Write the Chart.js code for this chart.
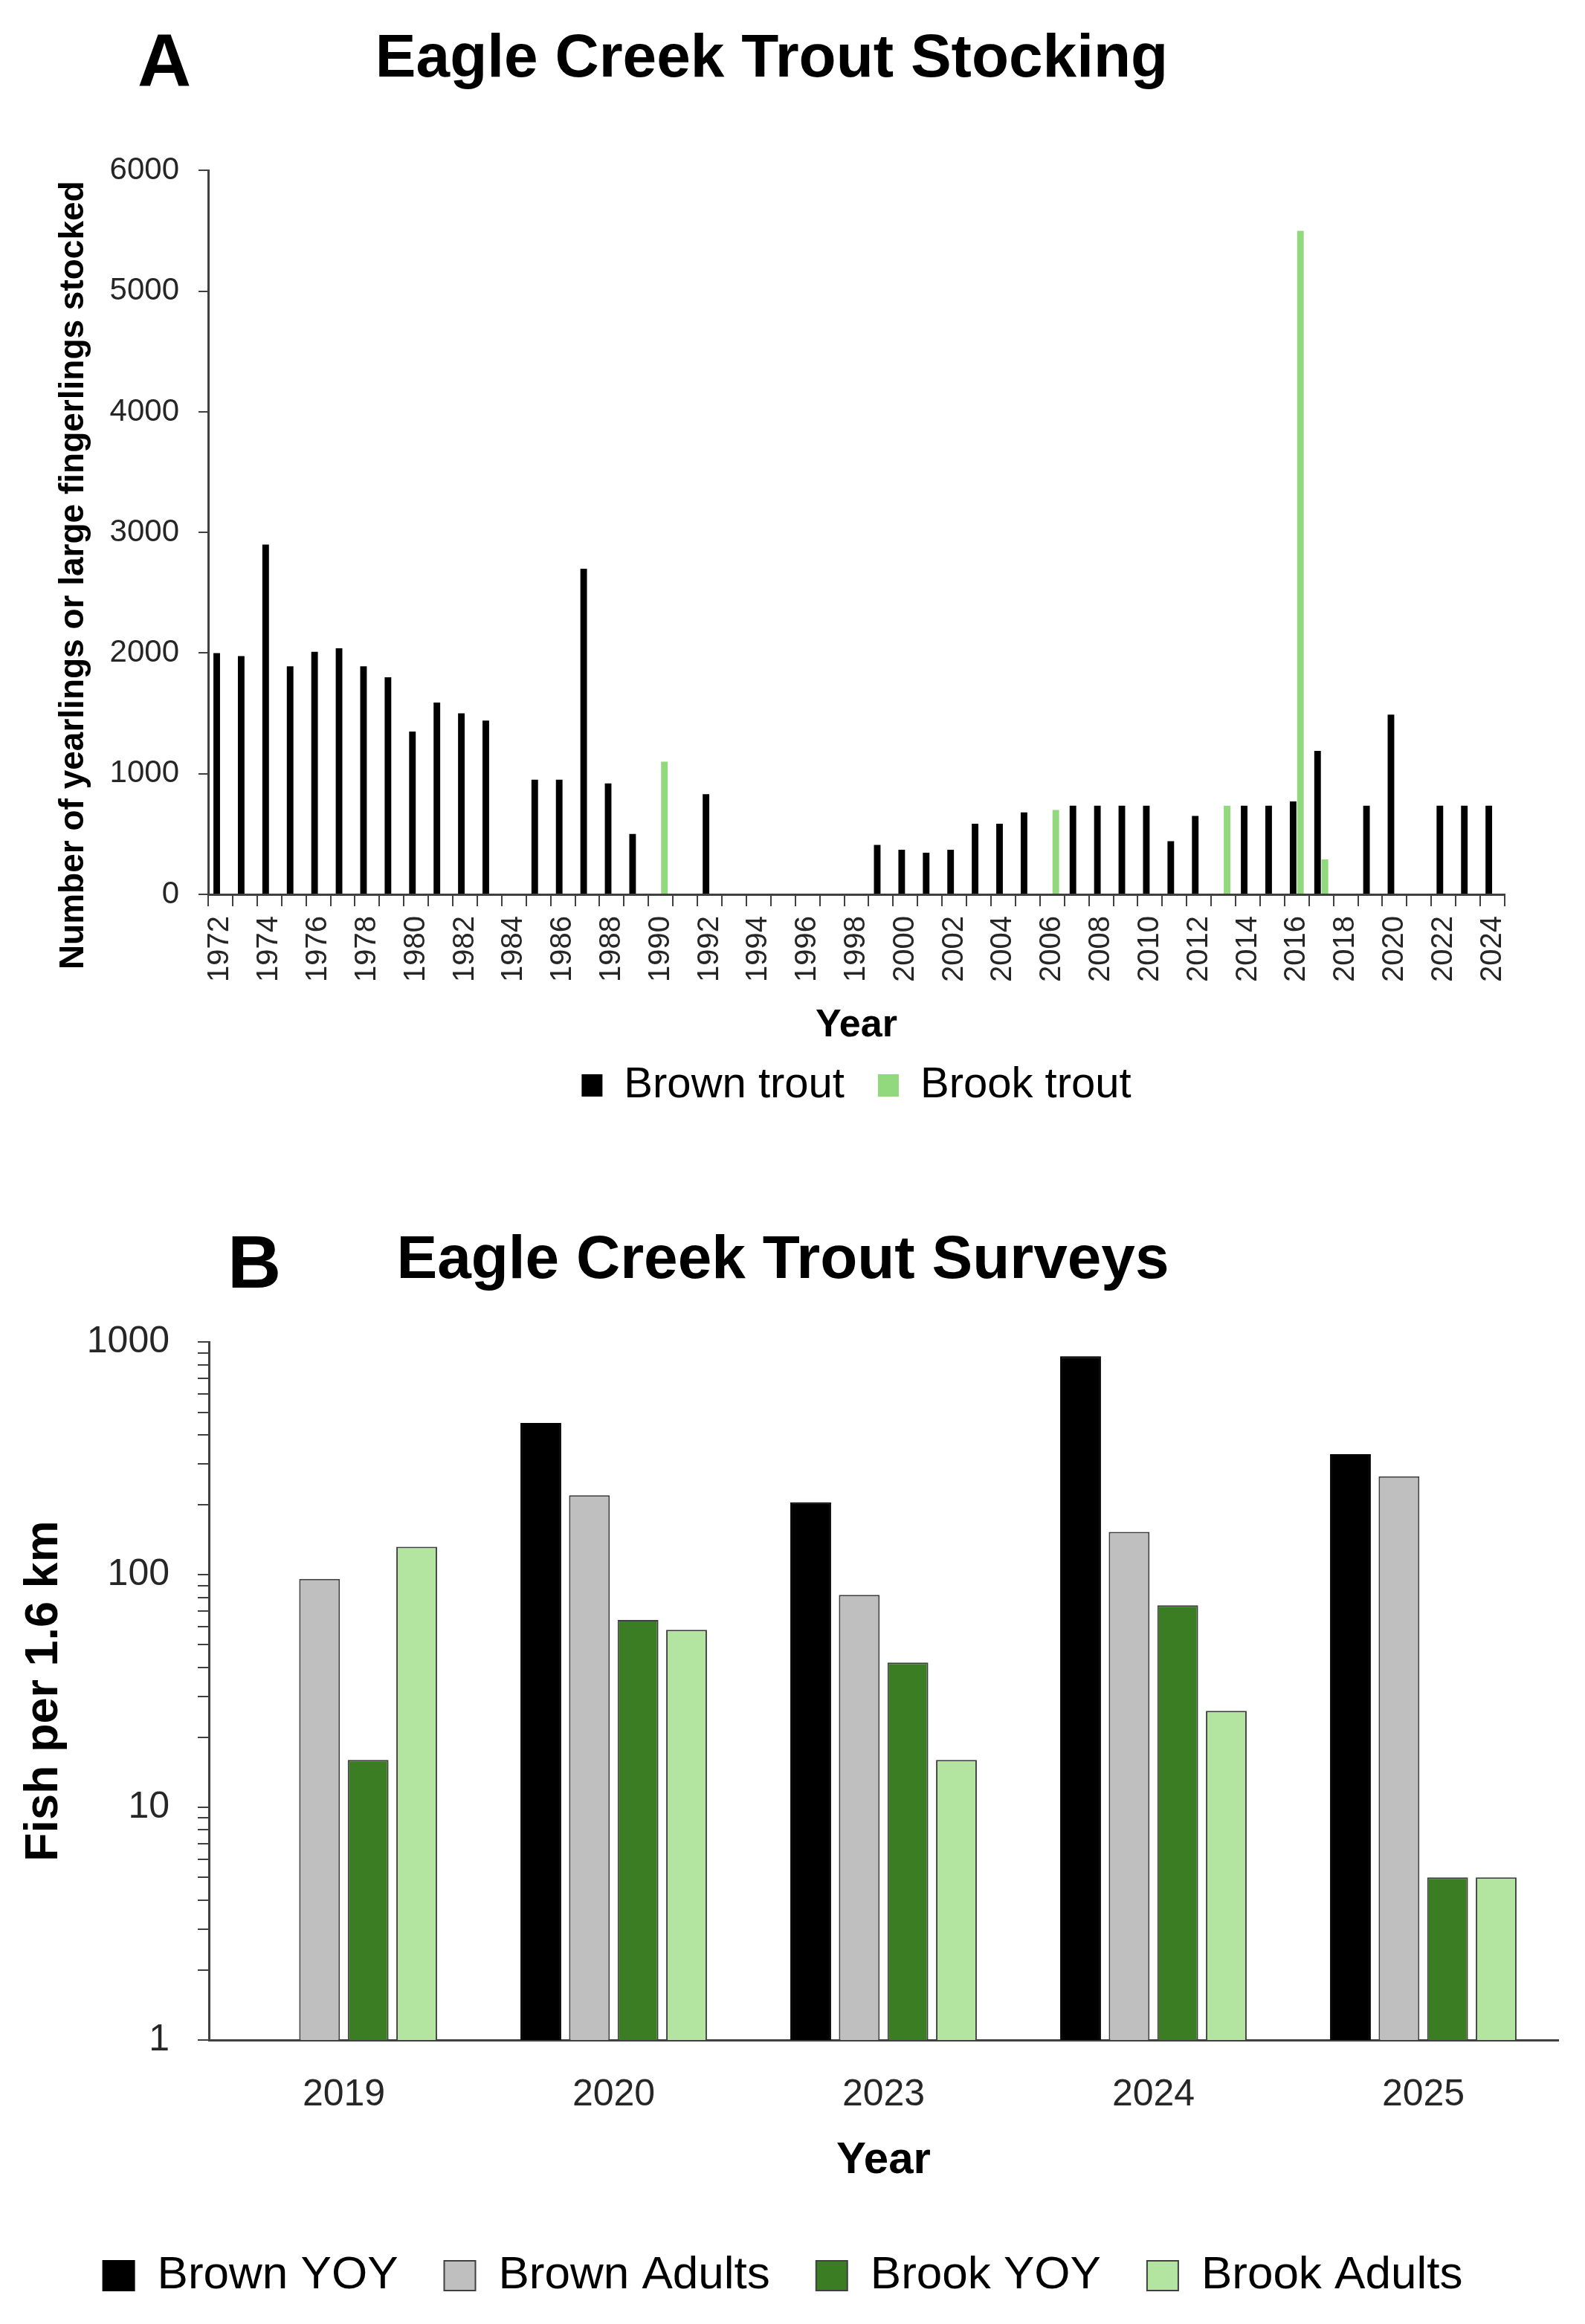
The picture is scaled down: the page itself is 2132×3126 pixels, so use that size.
<!DOCTYPE html>
<html>
<head>
<meta charset="utf-8">
<script src="https://cdn.jsdelivr.net/npm/chart.js@4.4.1/dist/chart.umd.min.js"></script>
<style>
  body { margin: 0; background: #fff; width: 2132px; height: 3126px; position: relative; overflow: hidden; }
  canvas { position: absolute; left: 0; }
  #stocking { top: 0; }
  #surveys { top: 1520px; }
  .panel { position: absolute; font: bold 100px 'Liberation Sans', Arial, sans-serif; line-height: 1; color: #000; }
</style>
</head>
<body>
<div class="panel" style="left:185px; top:31px;">A</div>
<div class="panel" style="left:306px; top:1647px;">B</div>
<canvas id="stocking" width="2076" height="1520"></canvas>
<canvas id="surveys" width="2106" height="1606"></canvas>
<script>
// panel A - fish stocked per year
const stockYears = ['1972','1973','1974','1975','1976','1977','1978','1979','1980','1981',
  '1982','1983','1984','1985','1986','1987','1988','1989','1990','1991',
  '1992','1993','1994','1995','1996','1997','1998','1999','2000','2001',
  '2002','2003','2004','2005','2006','2007','2008','2009','2010','2011',
  '2012','2013','2014','2015','2016','2017','2018','2019','2020','2021',
  '2022','2023','2024'];
const brownStocked = [2000,1975,2900,1890,2010,2040,1890,1800,1350,1590,
  1500,1440,0,950,950,2700,920,500,0,0,
  830,0,0,0,0,0,0,410,370,345,
  370,585,585,680,0,735,735,735,735,440,
  650,0,735,735,770,1190,0,735,1490,0,
  735,735,735];
const brookStocked = [0,0,0,0,0,0,0,0,0,0,
  0,0,0,0,0,0,0,0,1100,0,
  0,0,0,0,0,0,0,0,0,0,
  0,0,0,0,700,0,0,0,0,0,
  0,735,0,0,5500,290,0,0,0,0,
  0,0,0];
const stockTicks = [0,1000,2000,3000,4000,5000,6000];

// panel B - survey densities
const surveyYears = ['2019','2020','2023','2024','2025'];
const brownYoy = [null,450,205,870,330];
const brownAdults = [96,220,82,153,265];
const brookYoy = [16,64,42,74,5];
const brookAdults = [132,58,16,26,5];
const logTicks = [1,2,3,4,5,6,7,8,9,10,20,30,40,50,60,70,80,90,100,200,300,400,500,600,700,800,900,1000];
const logLabels = [1,10,100,1000];

const FONT = "'Liberation Sans', Arial, sans-serif";
Chart.defaults.font.family = FONT;
Chart.defaults.color = '#262626';
const AXIS = '#404040';

new Chart(document.getElementById('stocking'), {
  type: 'bar',
  data: {
    labels: stockYears,
    datasets: [
      { label: 'Brown trout', data: brownStocked, backgroundColor: '#000000', borderWidth: 0 },
      { label: 'Brook trout', data: brookStocked, backgroundColor: '#92d87c', borderWidth: 0 }
    ]
  },
  options: {
    responsive: false,
    devicePixelRatio: 1,
    animation: false,
    categoryPercentage: 0.6,
    barPercentage: 0.9,
    layout: { padding: { left: 52, right: 52, top: 0, bottom: 21 } },
    plugins: {
      title: {
        display: true,
        text: 'Eagle Creek Trout Stocking',
        color: '#000',
        font: { size: 82, weight: 'bold' },
        padding: { top: 31, bottom: 100 }
      },
      legend: {
        position: 'bottom',
        fullSize: false,
        labels: { font: { size: 58 }, color: '#000', boxWidth: 28, boxHeight: 30, padding: 45 }
      },
      tooltip: { enabled: false }
    },
    scales: {
      x: {
        afterFit: s => { s.height = 183; },
        grid: { drawOnChartArea: false, tickLength: 16, color: AXIS, lineWidth: 2 },
        border: { color: AXIS, width: 3 },
        ticks: {
          autoSkip: false, minRotation: 90, maxRotation: 90, padding: 13,
          font: { size: 40 },
          callback: function (v, i) { return i % 2 === 0 ? this.getLabelForValue(v) : ''; }
        },
        title: { display: true, text: 'Year', color: '#000', font: { size: 52, weight: 'bold' }, padding: { top: 0, bottom: -25 } }
      },
      y: {
        min: 0, max: 6000,
        afterFit: s => { s.width = 228; },
        afterBuildTicks: s => { s.ticks = stockTicks.map(v => ({ value: v })); },
        grid: { drawOnChartArea: false, tickLength: 13, color: AXIS, lineWidth: 2 },
        border: { color: AXIS, width: 3 },
        ticks: { padding: 26, font: { size: 42 }, callback: v => String(v) },
        title: {
          display: true, text: 'Number of yearlings or large fingerlings stocked         ',
          color: '#000', font: { size: 46, weight: 'bold' }, padding: { top: 20, bottom: 0 }
        }
      }
    }
  }
});

new Chart(document.getElementById('surveys'), {
  type: 'bar',
  data: {
    labels: surveyYears,
    datasets: [
      { label: 'Brown YOY', data: brownYoy, backgroundColor: '#000000', borderColor: '#000000', borderWidth: 2 },
      { label: 'Brown Adults', data: brownAdults, backgroundColor: '#bfbfbf', borderColor: AXIS, borderWidth: 2 },
      { label: 'Brook YOY', data: brookYoy, backgroundColor: '#3b7d23', borderColor: AXIS, borderWidth: 2 },
      { label: 'Brook Adults', data: brookAdults, backgroundColor: '#b3e5a1', borderColor: AXIS, borderWidth: 2 }
    ]
  },
  options: {
    responsive: false,
    devicePixelRatio: 1,
    animation: false,
    categoryPercentage: 0.72,
    barPercentage: 0.84,
    layout: { padding: { left: 10, right: 10, top: 0, bottom: 24 } },
    plugins: {
      title: {
        display: true,
        text: 'Eagle Creek Trout Surveys',
        color: '#000',
        font: { size: 82, weight: 'bold' },
        padding: { top: 127, bottom: 60 }
      },
      legend: {
        position: 'bottom',
        labels: { font: { size: 62 }, color: '#000', boxWidth: 42, boxHeight: 40, padding: 62 }
      },
      tooltip: { enabled: false }
    },
    scales: {
      x: {
        afterFit: s => { s.height = 224; },
        grid: { display: false },
        border: { color: AXIS, width: 3 },
        ticks: { padding: 36, font: { size: 50 } },
        title: { display: true, text: 'Year', color: '#000', font: { size: 60, weight: 'bold' }, padding: { top: 0, bottom: 26 } }
      },
      y: {
        type: 'logarithmic',
        min: 1, max: 1000,
        afterFit: s => { s.width = 271; },
        afterBuildTicks: s => { s.ticks = logTicks.map(v => ({ value: v, major: logLabels.includes(v) })); },
        grid: { drawOnChartArea: false, tickLength: 15, color: AXIS, lineWidth: 2 },
        border: { color: AXIS, width: 3 },
        ticks: {
          autoSkip: false, padding: 38, font: { size: 50 },
          callback: v => logLabels.includes(v) ? String(v) : ''
        },
        title: {
          display: true, text: 'Fish per 1.6 km',
          color: '#000', font: { size: 63, weight: 'bold' }, padding: { top: 12, bottom: 0 }
        }
      }
    }
  }
});
</script>
</body>
</html>
